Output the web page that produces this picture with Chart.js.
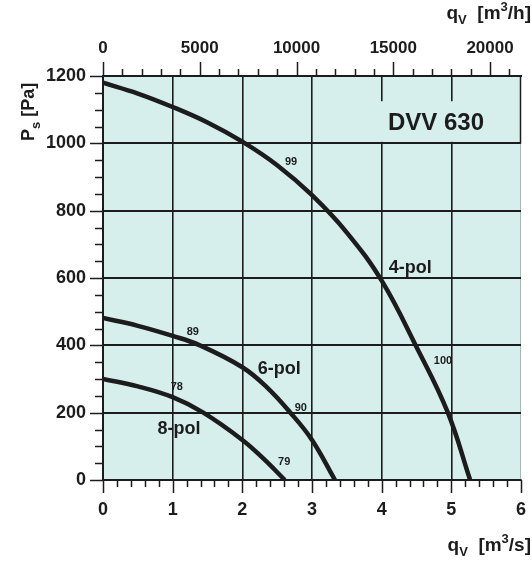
<!DOCTYPE html>
<html>
<head>
<meta charset="utf-8">
<script src="https://cdn.jsdelivr.net/npm/chart.js@4.4.1/dist/chart.umd.min.js"></script>
<style>
  html, body { margin: 0; padding: 0; background: #fff; }
  canvas { display: block; }
</style>
</head>
<body>
<canvas id="fan" width="532" height="562"></canvas>
<script>
// fan curves, flow in m3/s and static pressure in Pa
const flow4 = [0, 0.5, 1, 1.5, 2, 2.5, 3, 3.5, 4, 4.5, 4.95, 5.27];
const pres4 = [1180, 1148, 1108, 1062, 1005, 935, 846, 735, 592, 395, 200, 0];
const flow6 = [0, 0.5, 1, 1.39, 2, 2.35, 2.69, 3, 3.33];
const pres6 = [481, 458, 428, 400, 335, 276, 200, 119, 0];
const flow8 = [0, 0.5, 1, 1.44, 2, 2.3, 2.61];
const pres8 = [300, 278, 246, 200, 119, 64, 0];

// axis ticks
const xTicks = [0, 1, 2, 3, 4, 5, 6];
const yTicks = [0, 200, 400, 600, 800, 1000, 1200];
const topTicks = [0, 5000, 10000, 15000, 20000];   // m3/h

// small notes on the chart (data coords)
const noteText = ['99', '89', '78', '90', '79', '100'];
const noteX = [2.70, 1.29, 1.06, 2.84, 2.60, 4.88];
const noteY = [944, 439, 276, 214, 53, 354];
const curveName = ['4-pol', '6-pol', '8-pol'];
const nameX = [4.41, 2.53, 1.09];
const nameY = [630, 330, 152];
const modelName = 'DVV 630';

const BG = '#d6efed';
const INK = '#1c1c1c';
const FONT = '"Liberation Sans", Arial, sans-serif';

function pts(xs, ys) {
  return xs.map((v, i) => ({ x: v, y: ys[i] }));
}

function textRun(ctx, parts, x, y, alignRight) {
  // parts: [text, size, dy]
  let w = 0;
  parts.forEach(p => { ctx.font = 'bold ' + p[1] + 'px ' + FONT; w += ctx.measureText(p[0]).width; });
  let cx = alignRight ? x - w : x;
  ctx.textAlign = 'left';
  ctx.textBaseline = 'alphabetic';
  parts.forEach(p => {
    ctx.font = 'bold ' + p[1] + 'px ' + FONT;
    ctx.fillText(p[0], cx, y + p[2]);
    cx += ctx.measureText(p[0]).width;
  });
}

const decor = {
  id: 'decor',
  beforeDraw(chart) {
    const { ctx, chartArea: a } = chart;
    ctx.save();
    ctx.fillStyle = BG;
    ctx.fillRect(a.left, a.top, a.right - a.left, a.bottom - a.top);
    ctx.restore();
  },
  beforeDatasetsDraw(chart) {
    // box behind the model name hides grid lines
    const { ctx, chartArea: a, scales: { x, y } } = chart;
    const l = x.getPixelForValue(3.9);
    const t = y.getPixelForValue(1125);
    const b = y.getPixelForValue(1000) - 1.5;
    ctx.save();
    ctx.fillStyle = BG;
    ctx.fillRect(l, t, a.right - l, b - t);
    ctx.restore();
  },
  afterDraw(chart) {
    const { ctx, chartArea: a, scales: { x, y, x2 } } = chart;
    ctx.save();
    ctx.strokeStyle = INK;
    ctx.lineWidth = 1.5;
    ctx.beginPath();
    // bottom ticks every 0.2
    for (let i = 0; i <= 30; i++) {
      const px = Math.round(x.getPixelForValue(i / 5)) + 0.5;
      const len = i % 5 === 0 ? 13 : 7;
      ctx.moveTo(px, a.bottom); ctx.lineTo(px, a.bottom + len);
    }
    // top ticks every 1000 m3/h
    for (let v = 0; v <= 21000; v += 1000) {
      const px = Math.round(x2.getPixelForValue(v)) + 0.5;
      const len = v % 5000 === 0 ? 14 : 7;
      ctx.moveTo(px, a.top); ctx.lineTo(px, a.top - len);
    }
    // left ticks every 50 Pa
    for (let v = 0; v <= 1200; v += 50) {
      const py = Math.round(y.getPixelForValue(v)) + 0.5;
      const len = v % 200 === 0 ? 13 : 8;
      ctx.moveTo(a.left, py); ctx.lineTo(a.left - len, py);
    }
    ctx.stroke();

    // right frame
    ctx.lineWidth = 1.5;
    ctx.beginPath();
    ctx.moveTo(a.right - 0.5, a.top);
    ctx.lineTo(a.right - 0.5, y.getPixelForValue(1000));
    ctx.stroke();
    ctx.strokeStyle = 'rgba(60,60,60,0.3)';
    ctx.lineWidth = 1;
    ctx.beginPath();
    ctx.moveTo(a.right - 0.5, y.getPixelForValue(1000));
    ctx.lineTo(a.right - 0.5, a.bottom);
    ctx.stroke();

    ctx.fillStyle = INK;
    // notes
    ctx.textAlign = 'center';
    ctx.textBaseline = 'middle';
    ctx.font = 'bold 11px ' + FONT;
    noteText.forEach((t, i) => ctx.fillText(t, x.getPixelForValue(noteX[i]), y.getPixelForValue(noteY[i])));
    ctx.font = 'bold 18px ' + FONT;
    curveName.forEach((t, i) => ctx.fillText(t, x.getPixelForValue(nameX[i]), y.getPixelForValue(nameY[i])));
    ctx.font = 'bold 24px ' + FONT;
    ctx.fillText(modelName, x.getPixelForValue(4.78), y.getPixelForValue(1058));

    // axis titles
    textRun(ctx, [['q', 19, 0], ['V', 13, 5], ['  [m', 19, 0], ['3', 13, -8], ['/h]', 19, 0]], 531, 19, true);
    textRun(ctx, [['q', 19, 0], ['V', 13, 5], ['  [m', 19, 0], ['3', 13, -8], ['/s]', 19, 0]], 531, 551, true);
    ctx.translate(34, 141);
    ctx.rotate(-Math.PI / 2);
    textRun(ctx, [['P', 18, 0], ['s', 13, 6], [' [Pa]', 18, 0]], 0, 0, false);
    ctx.restore();
  }
};

const gridColor = max => c => (c.tick.value > 0 && c.tick.value < max) ? INK : 'rgba(0,0,0,0)';
const noPad = s => { s.paddingLeft = 0; s.paddingRight = 0; s.paddingTop = 0; s.paddingBottom = 0; };
const plain = v => String(v);

new Chart(document.getElementById('fan'), {
  type: 'scatter',
  data: {
    datasets: [
      { label: '4-pol', data: pts(flow4, pres4), borderColor: INK, backgroundColor: INK },
      { label: '6-pol', data: pts(flow6, pres6), borderColor: INK, backgroundColor: INK },
      { label: '8-pol', data: pts(flow8, pres8), borderColor: INK, backgroundColor: INK }
    ]
  },
  options: {
    responsive: false,
    animation: false,
    devicePixelRatio: 1,
    layout: { padding: { left: 0, right: 11, top: 0, bottom: 0 } },
    elements: {
      line: { borderWidth: 4.5, borderColor: INK, tension: 0.4, borderCapStyle: 'butt', borderJoinStyle: 'round' },
      point: { radius: 0 }
    },
    datasets: { scatter: { showLine: true } },
    plugins: { legend: { display: false }, tooltip: { enabled: false } },
    scales: {
      x: {
        type: 'linear', position: 'bottom', min: 0, max: 6,
        afterFit: s => { s.height = 82; noPad(s); },
        afterBuildTicks: s => { s.ticks = xTicks.map(v => ({ value: v })); },
        grid: { color: gridColor(6), lineWidth: 1.6, drawTicks: false },
        border: { color: INK, width: 2 },
        ticks: { padding: 19, color: INK, callback: plain, font: { family: FONT, size: 18, weight: 'bold' } }
      },
      x2: {
        type: 'linear', position: 'top', min: 0, max: 21600,
        afterFit: s => { s.height = 76; noPad(s); },
        afterBuildTicks: s => { s.ticks = topTicks.map(v => ({ value: v })); },
        grid: { drawOnChartArea: false, drawTicks: false },
        border: { color: INK, width: 2 },
        ticks: { padding: 17, color: INK, callback: plain, font: { family: FONT, size: 17, weight: 'bold' } }
      },
      y: {
        type: 'linear', position: 'left', min: 0, max: 1200,
        afterFit: s => { s.width = 103; noPad(s); },
        afterBuildTicks: s => { s.ticks = yTicks.map(v => ({ value: v })); },
        grid: { color: gridColor(1200), lineWidth: 2, drawTicks: false },
        border: { color: INK, width: 2 },
        ticks: { padding: 17, color: INK, callback: plain, font: { family: FONT, size: 18, weight: 'bold' } }
      }
    }
  },
  plugins: [decor]
});
</script>
</body>
</html>
